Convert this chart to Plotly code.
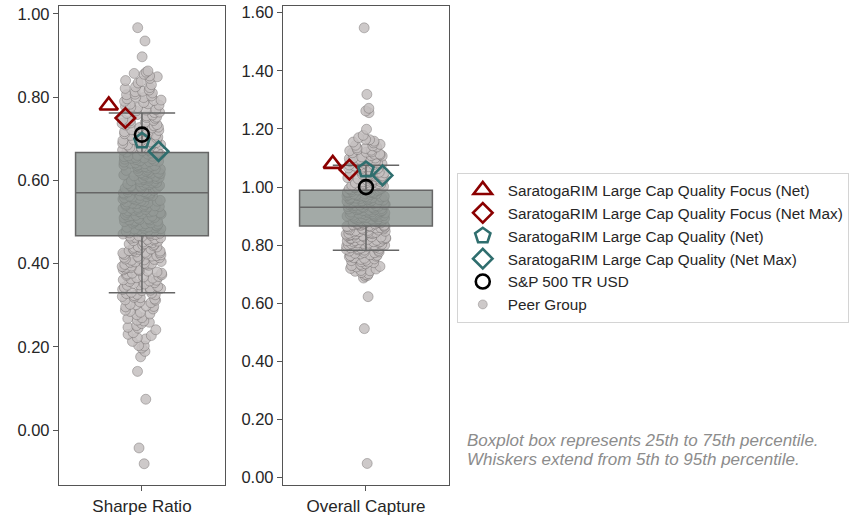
import plotly.graph_objects as go
from plotly.subplots import make_subplots

# ---- metrics ----
metrics = ["Sharpe Ratio", "Overall Capture"]

# ---- fund / benchmark values per metric ----
fund_names = [
    "SaratogaRIM Large Cap Quality Focus (Net)",
    "SaratogaRIM Large Cap Quality Focus (Net Max)",
    "SaratogaRIM Large Cap Quality (Net)",
    "SaratogaRIM Large Cap Quality (Net Max)",
    "S&P 500 TR USD",
]
sharpe_funds = [0.780, 0.750, 0.695, 0.670, 0.710]
capture_funds = [1.080, 1.060, 1.060, 1.040, 1.000]

# ---- box statistics (25th/50th/75th percentile, 5th/95th whiskers) ----
sharpe_box = dict(p5=0.330, q1=0.467, median=0.570, q3=0.667, p95=0.762)
capture_box = dict(p5=0.783, q1=0.866, median=0.931, q3=0.989, p95=1.075)

# ---- peer group observations ----
sharpe_peers = [
    -0.081, -0.043, 0.074, 0.141,
    0.176, 0.189, 0.197, 0.202, 0.213, 0.219, 0.227, 0.230, 0.234, 0.241,
    0.245, 0.251, 0.256, 0.259, 0.262, 0.268, 0.270, 0.277, 0.279, 0.285,
    0.288, 0.291, 0.297, 0.298, 0.302, 0.306, 0.308, 0.312, 0.313, 0.318,
    0.319, 0.323, 0.325, 0.328, 0.329,
    0.331, 0.335, 0.336, 0.340, 0.341, 0.343, 0.345, 0.348, 0.349, 0.351,
    0.354, 0.357, 0.358, 0.360, 0.363, 0.365, 0.366, 0.369, 0.372, 0.373,
    0.375, 0.377, 0.380, 0.382, 0.383, 0.386, 0.388, 0.390, 0.391, 0.394,
    0.396, 0.398, 0.400, 0.401, 0.403, 0.405, 0.408, 0.409, 0.410, 0.413,
    0.414, 0.415, 0.418, 0.419, 0.422, 0.423, 0.425, 0.427, 0.428, 0.430,
    0.432, 0.434, 0.435, 0.438, 0.439, 0.440, 0.443, 0.445, 0.446, 0.448,
    0.450, 0.453, 0.454, 0.455, 0.458, 0.460,
    0.462, 0.463, 0.465, 0.467, 0.468, 0.470, 0.472, 0.473, 0.475, 0.477,
    0.478, 0.480, 0.482, 0.483, 0.485, 0.486, 0.488, 0.490, 0.491, 0.493,
    0.495, 0.496, 0.498, 0.500, 0.501, 0.503, 0.505, 0.506, 0.508, 0.510,
    0.511, 0.513, 0.515, 0.516, 0.518, 0.520, 0.522, 0.523, 0.525, 0.527,
    0.528, 0.530, 0.532, 0.533, 0.535, 0.537, 0.538, 0.540, 0.542, 0.544,
    0.545, 0.547, 0.548, 0.550, 0.552, 0.553, 0.555, 0.557, 0.558, 0.560,
    0.562, 0.563, 0.565, 0.567, 0.568, 0.570, 0.571, 0.573, 0.575, 0.576,
    0.578, 0.580, 0.582, 0.583, 0.585, 0.587, 0.588, 0.590, 0.592, 0.593,
    0.595, 0.597, 0.598, 0.600, 0.602, 0.603, 0.605, 0.607, 0.608, 0.610,
    0.612, 0.613, 0.615, 0.617, 0.618, 0.620, 0.622, 0.624, 0.625, 0.627,
    0.628, 0.630, 0.632, 0.634, 0.635, 0.637, 0.638, 0.640, 0.642, 0.644,
    0.645, 0.647, 0.648, 0.650, 0.652, 0.654, 0.655, 0.657, 0.658, 0.660,
    0.662, 0.664, 0.666,
    0.668, 0.671, 0.673, 0.676, 0.678, 0.681, 0.683, 0.686, 0.688, 0.691,
    0.693, 0.696, 0.698, 0.701, 0.704, 0.706, 0.709, 0.712, 0.715, 0.717,
    0.720, 0.723, 0.726, 0.728, 0.731, 0.734, 0.737, 0.740, 0.743, 0.746,
    0.749, 0.752, 0.755, 0.758, 0.761,
    0.764, 0.767, 0.770, 0.773, 0.775, 0.778, 0.781, 0.784, 0.787, 0.790,
    0.793, 0.796, 0.800, 0.803, 0.807, 0.810, 0.814, 0.817, 0.821, 0.825,
    0.830, 0.834, 0.840, 0.845, 0.851, 0.857, 0.860, 0.863,
    0.897, 0.935, 0.967,
    0.203, 0.222, 0.247, 0.264, 0.283, 0.296, 0.301, 0.315, 0.321, 0.326,
    0.338, 0.352, 0.361, 0.368, 0.377, 0.385, 0.393, 0.399, 0.404, 0.411,
    0.417, 0.421, 0.426, 0.431, 0.436, 0.441, 0.447, 0.452, 0.457, 0.461,
    0.466, 0.471, 0.474, 0.479, 0.484, 0.487, 0.492, 0.497, 0.502, 0.505,
    0.509, 0.514, 0.519, 0.524, 0.526, 0.531, 0.536, 0.539, 0.543, 0.549,
    0.551, 0.556, 0.561, 0.564, 0.569, 0.572, 0.577, 0.581, 0.586, 0.589,
    0.594, 0.599, 0.604, 0.606, 0.611, 0.616, 0.619, 0.623, 0.629, 0.633,
    0.636, 0.641, 0.646, 0.651, 0.653, 0.659, 0.663, 0.667, 0.672, 0.675,
    0.679, 0.685, 0.689, 0.694, 0.699, 0.703, 0.708, 0.713, 0.718, 0.722,
    0.727, 0.733, 0.738, 0.744, 0.751, 0.757, 0.763, 0.769, 0.776, 0.783,
    0.792, 0.799, 0.806, 0.813, 0.823, 0.838, 0.849, 0.855,
]

capture_peers = [
    0.049, 0.513, 0.623,
    0.687, 0.693, 0.699, 0.702, 0.706, 0.710, 0.713, 0.718, 0.720, 0.725,
    0.727, 0.730, 0.734, 0.736, 0.740, 0.743, 0.747, 0.748, 0.751, 0.755,
    0.757, 0.760, 0.762, 0.765, 0.767, 0.770, 0.772, 0.775, 0.777, 0.780,
    0.782, 0.784, 0.786, 0.788, 0.790, 0.791, 0.793, 0.795, 0.797, 0.798,
    0.800, 0.802, 0.803, 0.805, 0.807, 0.808, 0.810, 0.812, 0.813, 0.815,
    0.816, 0.818, 0.820, 0.821, 0.823, 0.824, 0.826, 0.827, 0.829, 0.830,
    0.832, 0.833, 0.835, 0.836, 0.838, 0.839, 0.841, 0.842, 0.844, 0.845,
    0.847, 0.848, 0.850, 0.851, 0.853, 0.854, 0.856, 0.857, 0.859, 0.860,
    0.862, 0.863, 0.865,
    0.866, 0.867, 0.869, 0.870, 0.871, 0.872, 0.874, 0.875, 0.876, 0.877,
    0.879, 0.880, 0.881, 0.882, 0.883, 0.885, 0.886, 0.887, 0.888, 0.889,
    0.891, 0.892, 0.893, 0.894, 0.895, 0.897, 0.898, 0.899, 0.900, 0.901,
    0.903, 0.904, 0.905, 0.906, 0.907, 0.909, 0.910, 0.911, 0.912, 0.913,
    0.915, 0.916, 0.917, 0.918, 0.919, 0.921, 0.922, 0.923, 0.924, 0.925,
    0.927, 0.928, 0.929, 0.930,
    0.932, 0.933, 0.934, 0.935, 0.937, 0.938, 0.939, 0.940, 0.941, 0.943,
    0.944, 0.945, 0.946, 0.947, 0.949, 0.950, 0.951, 0.952, 0.953, 0.955,
    0.956, 0.957, 0.958, 0.959, 0.961, 0.962, 0.963, 0.964, 0.965, 0.967,
    0.968, 0.969, 0.970, 0.971, 0.973, 0.974, 0.975, 0.976, 0.977, 0.979,
    0.980, 0.981, 0.982, 0.984, 0.985, 0.986, 0.988,
    0.990, 0.992, 0.994, 0.996, 0.998, 1.000, 1.002, 1.004, 1.006, 1.008,
    1.010, 1.012, 1.014, 1.016, 1.018, 1.021, 1.023, 1.025, 1.027, 1.030,
    1.032, 1.034, 1.037, 1.039, 1.041, 1.044, 1.046, 1.049, 1.051, 1.054,
    1.057, 1.060, 1.063, 1.066, 1.069, 1.072, 1.074,
    1.077, 1.080, 1.083, 1.086, 1.089, 1.092, 1.095, 1.098, 1.101, 1.104,
    1.108, 1.111, 1.114, 1.118, 1.121, 1.125, 1.129, 1.133, 1.138, 1.142,
    1.147, 1.152, 1.158, 1.164, 1.170, 1.178,
    1.199, 1.256, 1.262, 1.271, 1.319, 1.548,
    0.696, 0.712, 0.729, 0.742, 0.753, 0.764, 0.774, 0.783, 0.789, 0.796,
    0.801, 0.806, 0.811, 0.817, 0.822, 0.828, 0.834, 0.840, 0.846, 0.852,
    0.858, 0.864, 0.868, 0.873, 0.878, 0.884, 0.890, 0.896, 0.902, 0.908,
    0.914, 0.920, 0.926, 0.931, 0.936, 0.942, 0.948, 0.954, 0.960, 0.966,
    0.972, 0.978, 0.983, 0.987, 0.991, 0.995, 0.999, 1.003, 1.007, 1.011,
    1.015, 1.019, 1.024, 1.028, 1.033, 1.038, 1.043, 1.048, 1.053, 1.058,
    1.064, 1.070, 1.076, 1.082, 1.088, 1.094, 1.100, 1.107, 1.113, 1.120,
    1.127, 1.135, 1.144, 1.155, 1.163,
]

y_ranges = [[-0.132, 1.019], [-0.025, 1.623]]

note_lines = [
    "Boxplot box represents 25th to 75th percentile.",
    "Whiskers extend from 5th to 95th percentile.",
]

# ---- styling ----
fund_symbols = ["triangle-up-open", "diamond-open", "pentagon-open", "diamond-open", "circle-open"]
fund_colors = ["#8b0000", "#8b0000", "#2f6e6e", "#2f6e6e", "#000000"]
fund_sizes = [16, 15, 16, 15, 14]
fund_offsets = [-0.2, -0.1, 0.0, 0.1, 0.0]
peer_fill = "rgba(196,192,192,0.85)"
peer_edge = "rgba(95,90,90,0.55)"
font_family = "Liberation Sans, Arial, sans-serif"
axis_color = "#555555"
text_color = "#262626"

fig = make_subplots(rows=1, cols=2, horizontal_spacing=0.08)

panels = [(sharpe_peers, sharpe_box, sharpe_funds), (capture_peers, capture_box, capture_funds)]

for col, (peers, box, funds) in enumerate(panels, start=1):
    # jittered peer points (box outline hidden, points only)
    fig.add_trace(
        go.Box(
            x=[0] * len(peers),
            y=peers,
            width=0.24,
            boxpoints="all",
            jitter=1,
            pointpos=0,
            fillcolor="rgba(0,0,0,0)",
            line=dict(width=0, color="rgba(0,0,0,0)"),
            marker=dict(size=10, color=peer_fill, line=dict(width=0.7, color=peer_edge)),
            showlegend=False,
            hoverinfo="y",
        ),
        row=1, col=col,
    )
    # percentile box: 25th-75th, whiskers 5th-95th
    fig.add_trace(
        go.Box(
            x=[0],
            q1=[box["q1"]],
            median=[box["median"]],
            q3=[box["q3"]],
            lowerfence=[box["p5"]],
            upperfence=[box["p95"]],
            width=0.8,
            whiskerwidth=0.5,
            boxpoints=False,
            fillcolor="rgba(128,137,133,0.72)",
            line=dict(width=1.5, color="#666666"),
            showlegend=False,
            hoverinfo="skip",
        ),
        row=1, col=col,
    )
    for i, name in enumerate(fund_names):
        fig.add_trace(
            go.Scatter(
                x=[fund_offsets[i]],
                y=[funds[i]],
                mode="markers",
                name=name,
                legendrank=i + 1,
                showlegend=(col == 1),
                marker=dict(
                    symbol=fund_symbols[i],
                    size=fund_sizes[i],
                    color=fund_colors[i],
                    line=dict(width=2.6, color=fund_colors[i]),
                ),
            ),
            row=1, col=col,
        )

# legend entry for the peer points
fig.add_trace(
    go.Scatter(
        x=[None], y=[None], mode="markers", name="Peer Group", legendrank=6,
        marker=dict(size=9, color=peer_fill, line=dict(width=0.6, color=peer_edge)),
    ),
    row=1, col=1,
)

for col in (1, 2):
    fig.update_xaxes(
        range=[-0.5, 0.5],
        tickvals=[0],
        ticktext=[metrics[col - 1]],
        showline=True, mirror=True, linecolor=axis_color, linewidth=1.3,
        ticks="outside", ticklen=5, tickcolor=axis_color,
        tickfont=dict(size=17, color=text_color),
        showgrid=False, zeroline=False, automargin=False,
        row=1, col=col,
    )
    fig.update_yaxes(
        range=y_ranges[col - 1],
        dtick=0.2,
        tickformat=".2f",
        showline=True, mirror=True, linecolor=axis_color, linewidth=1.3,
        ticks="outside", ticklen=5, tickcolor=axis_color,
        tickfont=dict(size=16.5, color=text_color),
        showgrid=False, zeroline=False, automargin=False,
        row=1, col=col,
    )

fig.update_layout(
    xaxis=dict(domain=[0.0688, 0.2625]),
    xaxis2=dict(domain=[0.3302, 0.5239]),
    yaxis=dict(domain=[0.0583, 0.9883]),
    yaxis2=dict(domain=[0.0583, 0.9883]),
    width=857,
    height=515,
    margin=dict(l=0, r=0, t=0, b=0, autoexpand=False),
    plot_bgcolor="white",
    paper_bgcolor="white",
    font=dict(family=font_family, color=text_color),
    boxmode="overlay",
    legend=dict(
        x=0.533, y=0.665, xanchor="left", yanchor="top",
        bordercolor="#d4d4d4", borderwidth=1, bgcolor="white",
        font=dict(size=15.3, color=text_color),
        itemwidth=40,
        traceorder="normal",
    ),
    annotations=[
        dict(
            text="<i>" + line + "</i>",
            x=0.543, y=yc, xref="paper", yref="paper",
            xanchor="left", yanchor="middle", align="left", showarrow=False,
            font=dict(size=17, color="#8c8c8c", family=font_family),
        )
        for line, yc in zip(note_lines, [0.1456, 0.1087])
    ],
)

fig.write_html("out.html")
